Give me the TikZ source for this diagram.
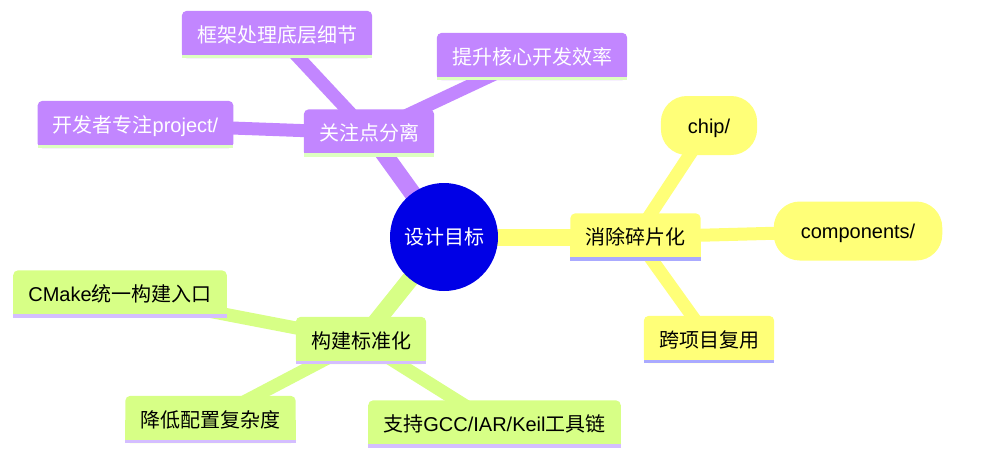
\documentclass[tikz,border=0pt]{standalone}
\usepackage{fontspec}
\setmainfont{Liberation Sans}
\newfontfamily\cjkfont{Noto Sans CJK SC}
\newcommand\zh[1]{{\cjkfont #1}}
\definecolor{rootblue}{HTML}{0000E6}
\definecolor{secY}{HTML}{FFFF78}
\definecolor{lineY}{HTML}{AAAAFF}
\definecolor{secG}{HTML}{D7FF86}
\definecolor{lineG}{HTML}{D4BEFF}
\definecolor{secP}{HTML}{C286FF}
\definecolor{lineP}{HTML}{DDFFC0}
\pgfdeclarelayer{edges}
\pgfdeclarelayer{boxes}
\pgfsetlayers{edges,boxes,main}

\begin{document}
\begin{tikzpicture}[x=1pt,y=-1pt,
  topic/.style={font=\fontsize{20}{24}\selectfont, inner xsep=15pt, inner ysep=0pt,
    text height=17.5pt, text depth=2.5pt, minimum height=47pt},
  pill/.style={topic, fill=secY, rounded corners=26pt, inner xsep=27pt, minimum height=59pt},
  rootedge/.style={line width=17pt},
  leafedge/.style={line width=13pt}]
\useasboundingbox (0,0) rectangle (985,464);

% root
\node[circle, fill=rootblue, text=white, minimum size=108pt, inner sep=0pt,
  font=\fontsize{20}{24}\selectfont] (root) at (444,237) {\zh{设计目标}};

% purple branch
\node[topic, text=white] (sep) at (369,133) {\zh{关注点分离}};
\node[topic, text=white] (frame) at (277,34.5) {\zh{框架处理底层细节}};
\node[topic, text=white] (eff) at (532,56.5) {\zh{提升核心开发效率}};
\node[topic, text=white] (dev) at (135.5,124.5) {\zh{开发者专注}project/};

% yellow branch
\node[topic] (frag) at (635.5,237) {\zh{消除碎片化}};
\node[pill] (chip) at (709,125.5) {chip/};
\node[pill] (comp) at (858,231) {components/};
\node[topic] (reuse) at (709,339.5) {\zh{跨项目复用}};

% green branch
\node[topic] (std) at (361,340.5) {\zh{构建标准化}};
\node[topic] (cmake) at (120,294) {CMake\zh{统一构建入口}};
\node[topic] (cfg) at (210.5,419.5) {\zh{降低配置复杂度}};
\node[topic] (tool) at (494.5,424) {\zh{支持}GCC/IAR/Keil\zh{工具链}};

% box backgrounds
\begin{pgfonlayer}{boxes}
\foreach \n/\c/\s in {sep/secP/lineP, frame/secP/lineP, eff/secP/lineP, dev/secP/lineP,
    frag/secY/lineY, reuse/secY/lineY,
    std/secG/lineG, cmake/secG/lineG, cfg/secG/lineG, tool/secG/lineG}{
  \fill[\c, rounded corners=5pt] (\n.south west) rectangle (\n.north east);
  \fill[\c] (\n.west) rectangle (\n.south east);
  \fill[\s] (\n.south west) rectangle ([yshift=3.5pt]\n.south east);
}
\end{pgfonlayer}

% connectors
\begin{pgfonlayer}{edges}
\draw[rootedge, secP] (root.center) -- (sep.center);
\draw[rootedge, secY] (root.center) -- (frag.center);
\draw[rootedge, secG] (root.center) -- (std.center);
\foreach \a/\b/\c in {sep/frame/secP, sep/eff/secP, sep/dev/secP,
    frag/chip/secY, frag/comp/secY, frag/reuse/secY,
    std/cmake/secG, std/cfg/secG, std/tool/secG}
  \draw[leafedge, \c] (\a.center) -- (\b.center);
\end{pgfonlayer}
\end{tikzpicture}
\end{document}
